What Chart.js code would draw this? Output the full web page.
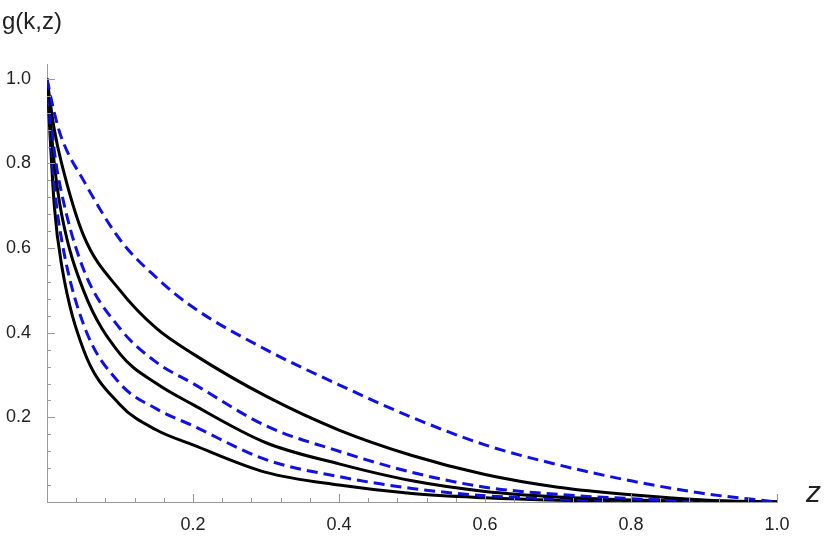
<!DOCTYPE html>
<html><head><meta charset="utf-8">
<script src="https://cdn.jsdelivr.net/npm/chart.js@4"></script>
<style>body{margin:0;background:#fff}#w{width:830px;height:545px}</style>
</head><body><div id="w"><canvas id="c"></canvas></div>
<script>
const zValues=[0,0.01,0.02,0.05,0.1,0.15,0.2,0.3,0.4,0.5,0.6,0.7,0.8,0.9,1];
const dashed1=[1,0.92,0.86,0.76,0.62,0.53,0.46,0.36,0.277,0.2,0.135,0.088,0.05,0.02,0];
const solid1=[1,0.88,0.8,0.63,0.5,0.41,0.35,0.25,0.17,0.11,0.065,0.035,0.017,0.005,0];
const dashed2=[1,0.83,0.73,0.55,0.41,0.33,0.28,0.18,0.12,0.07,0.035,0.018,0.008,0.002,0];
const solid2=[1,0.8,0.68,0.5,0.35,0.28,0.23,0.14,0.09,0.05,0.025,0.012,0.005,0.001,0];
const dashed3=[1,0.75,0.62,0.42,0.28,0.22,0.18,0.1,0.06,0.032,0.015,0.007,0.003,0.001,0];
const solid3=[1,0.7,0.56,0.36,0.23,0.17,0.135,0.07,0.04,0.02,0.01,0.004,0.001,0,0];
const xTickLabels=['0.2','0.4','0.6','0.8','1.0'];
const yTickLabels=['0.2','0.4','0.6','0.8','1.0'];
const yLabel='g(k,z)', xLabel='z';

function ds(vals,dashed){return{data:zValues.map((z,i)=>({x:z,y:vals[i]})),borderColor:dashed?'#1010e0':'#000',borderWidth:3,borderDash:dashed?[11,6]:[],pointRadius:0,cubicInterpolationMode:'monotone',fill:false};}
const ticksPlugin={id:'tk',afterDraw(ch){const c=ch.ctx,xs=ch.scales.x,ys=ch.scales.y;const x0=xs.getPixelForValue(0),y0=ys.getPixelForValue(0);
c.save();c.strokeStyle='#999';c.lineWidth=1;
for(let i=1;i<=25;i++){const v=i*0.04,p=Math.round(xs.getPixelForValue(v))+0.5,L=(i%5==0)?8:4;c.beginPath();c.moveTo(p,y0);c.lineTo(p,y0-L);c.stroke();}
for(let i=1;i<=25;i++){const v=i*0.04,p=Math.round(ys.getPixelForValue(v))+0.5,L=(i%5==0)?8:4;c.beginPath();c.moveTo(x0,p);c.lineTo(x0+L,p);c.stroke();}
c.fillStyle='#222';c.font='24px "Liberation Sans", Arial';c.textBaseline='top';c.fillText(yLabel,2,10);
c.font='italic 30px "Liberation Sans", Arial';c.textBaseline='middle';c.fillText(xLabel,806,y0-8);
c.restore();}};
new Chart(document.getElementById('c'),{type:'line',
data:{datasets:[ds(dashed1,true),ds(solid1,false),ds(dashed2,true),ds(solid2,false),ds(dashed3,true),ds(solid3,false)]},
options:{responsive:true,maintainAspectRatio:false,animation:false,
layout:{padding:{left:0,right:53,top:64,bottom:0}},
plugins:{legend:{display:false},tooltip:{enabled:false}},
scales:{
x:{type:'linear',min:0,max:1.0,afterFit(s){s.height=43;},
grid:{display:false},border:{color:'#999'},
ticks:{stepSize:0.2,maxRotation:0,autoSkip:false,padding:4,color:'#222',font:{size:18,family:'"Liberation Sans", Arial'},
callback:(v)=>{const i=Math.round(v/0.2)-1;return i>=0?xTickLabels[i]:'';}}},
y:{type:'linear',min:0,max:1.035,afterFit(s){s.width=47;},afterBuildTicks(s){s.ticks=[0,0.2,0.4,0.6,0.8,1.0].map(v=>({value:v}));},
grid:{display:false},border:{color:'#999'},
ticks:{padding:8,color:'#222',font:{size:18,family:'"Liberation Sans", Arial'},
callback:(v)=>{const i=Math.round(v/0.2)-1;return i>=0?yTickLabels[i]:'';}}}}},
plugins:[ticksPlugin]});
</script></body></html>
